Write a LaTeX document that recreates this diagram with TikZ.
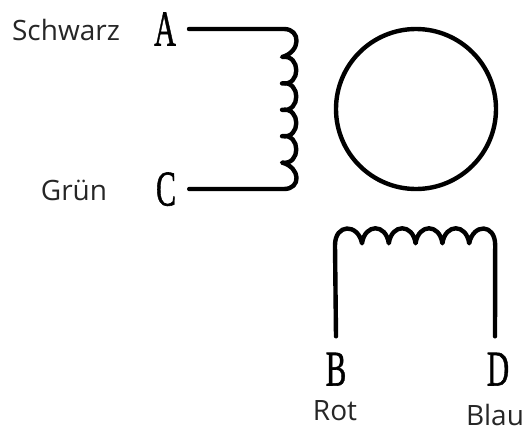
\documentclass[tikz,border=0pt]{standalone}
\usepackage{fontspec}
\setmainfont{Open Sans}
\newfontfamily\letterfont[FakeBold=1.2]{Liberation Serif}

\begin{document}
\begin{tikzpicture}[x=1pt,y=-1pt]
    \tikzset{
      wire/.style={draw, line width=4.4pt, line cap=round, line join=round},
      letter/.style={inner xsep=13pt, inner ysep=16pt, text height=33pt, text depth=0pt, font=\letterfont\fontsize{50}{50}\selectfont},
      color label/.style={inner sep=0pt, text=black!85, font=\fontsize{28}{28}\selectfont}
    };
    \useasboundingbox (0,0) rectangle (527,431);

    \node [letter] (letterA) at (165,29) {\scalebox{.6}[1]{A}};
    \node [letter] (letterC) at (166,189) {\scalebox{.6}[1]{C}};
    \node [letter] (letterB) at (336,369) {\scalebox{.62}[1]{B}};
    \node [letter] (letterD) at (498,369) {\scalebox{.62}[1]{D}};

    \node [color label] (schwarz) at (66,30) {Schwarz};
    \node [color label] (gruen) at (74,190) {Grün};
    \node [color label] (rot) at (335,411) {Rot};
    \node [color label] (blau) at (495,415) {Blau};

    \node [circle, draw, line width=4.4pt, minimum size=160pt, inner sep=0pt] (rotor) at (416,109) {};

    % coil between A and C
    \path[wire] (letterA.east) -- ++(95,0)
      .. controls +(17,0) and +(19,-5) .. ++(-2,28)
      \foreach \i in {1,...,4} { .. controls +(19,-3) and +(19,3) .. ++(0,26.4) }
      .. controls +(19,5) and +(17,0) .. ++(2,26.4)
      -- (letterC.east);

    % coil between B and D
    \path[wire] (letterB.north) -- ++(-1,-91)
      .. controls +(0,-22) and +(-4,-20) .. ++(27,-2)
      \foreach \i in {1,...,4} { .. controls +(3,-20) and +(-3,-20) .. ++(26.8,0) }
      .. controls +(4,-20) and +(0,-22) .. ++(26,2)
      -- ([xshift=-3pt]letterD.north);
\end{tikzpicture}
\end{document}
